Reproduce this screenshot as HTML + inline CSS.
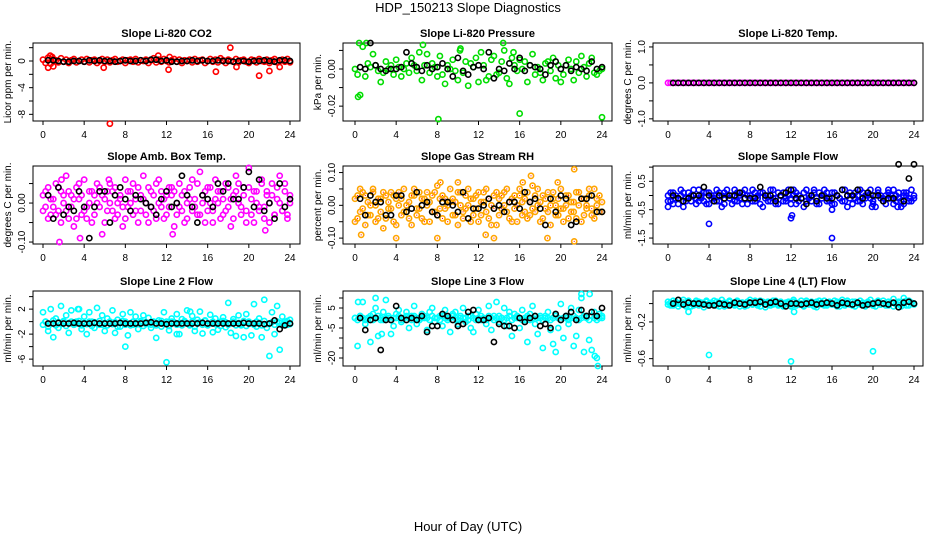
<!DOCTYPE html>
<html><head><meta charset="utf-8"><style>
html,body{margin:0;padding:0;background:#fff;}
svg{display:block;font-family:"Liberation Sans",Arial,sans-serif;}
</style></head><body>
<svg id="chart" width="936" height="540" viewBox="0 0 936 540" xmlns="http://www.w3.org/2000/svg">
<text x="468" y="12" font-size="13" text-anchor="middle">HDP_150213  Slope Diagnostics</text>
<text x="468" y="531" font-size="13" text-anchor="middle">Hour of Day (UTC)</text>
</svg>
<script>
// ---- data (units noted) ----
const xTicks = [0,4,8,12,16,20,24];
const co2Color = [0.2,-0.3,0.5,-0.4,0.3,0.1,-0.2,0.4,-0.1,0.2,-0.3,0.1,0.3,-0.2,0.0,0.2,-0.1,0.3,-0.2,0.1,0.2,-0.3,0.0,0.3,-0.1,0.2,-0.2,0.1,0.3,-0.1,0.0,0.2,-0.3,0.1,0.2,-0.1,0.3,-0.2,0.1,0.0,0.2,-0.3,0.1,0.4,-0.2,0.2,-0.1,0.3,0.0,-0.2,0.1,0.3,-0.1,0.2,-0.3,0.1,0.0,0.2,-0.2,0.3,-0.1,0.1,0.2,-0.3,0.0,0.3,-0.1,0.2,-0.2,0.4,0.1,-0.3,0.2,0.0,-0.1,0.3,-0.2,0.1,0.2,-0.1,-0.3,0.2,0.1,-0.2,0.3,0.0,-0.1,0.2,-0.3,0.1,0.3,-0.2,0.0,0.2,-0.1,0.3,-0.2];
const co2OutX = [6.5,18.2,21,16.8,12.2,22,5.9,0.5,1,18.8,11.2,12.3,23,0.7,0.9];
const co2OutY = [-9.4,2.0,-2.2,-1.6,-1.3,-1.5,-1.0,-1.0,-0.8,-0.9,0.8,0.6,-0.9,0.8,0.6];
const co2Black = [0.1,0.1,0.0,-0.1,-0.1,0.0,0.0,-0.1,0.1,0.0,0.1,0.0,0.0,-0.1,0.0,0.1,0.0,0.0,0.1,0.0,0.2,0.2,0.0,0.1,-0.1,-0.1,0.0,0.0,0.1,0.0,0.1,0.0,0.0,0.1,0.0,0.0,-0.1,0.0,0.0,-0.1,0.0,0.0,0.1,0.0,-0.1,0.1,0.1,0.0];

const presColor = [0,-3,-14,12,-4,3,1,8,2,-1,-7,-2,4,0,2,-3,5,1,-4,0,3,-2,6,2,-1,9,-6,2,8,-2,3,1,-4,7,-3,-8,2,0,5,-1,-6,11,-2,4,-9,3,1,6,-7,9,2,-6,-4,5,7,-3,-2,4,10,-5,-8,6,2,-1,5,0,4,-7,2,8,-3,1,-2,-6,3,4,-1,6,-5,2,-7,-3,2,5,0,-6,4,-2,7,1,-4,3,6,-2,-3,-1,0];
const presOutX = [0.3,8.1,16,24,0.4,1.1,14.4,6.6,10.2,15.4];
const presOutY = [-15,-27,-24,-26,14,14,14,13,10,9];
const presBlack = [1,0,14,2,0,-1,0,0,1,9,3,1,-1,2,0,1,3,0,-4,6,-1,-3,1,2,0,9,-5,0,-1,3,0,6,-1,2,1,0,-3,2,4,0,2,-1,1,0,-1,4,0,1];

const tempColor = [0,0,0,0,0,0,0,0,0,0,0,0,0,0,0,0,0,0,0,0,0,0,0,0,0,0,0,0,0,0,0,0,0,0,0,0,0,0,0,0,0,0,0,0,0,0,0,0,0,0,0,0,0,0,0,0,0,0,0,0,0,0,0,0,0,0,0,0,0,0,0,0,0,0,0,0,0,0,0,0,0,0,0,0,0,0,0,0,0,0,0,0,0,0,0,0,0];
const tempBlack = [0,0,0,0,0,0,0,0,0,0,0,0,0,0,0,0,0,0,0,0,0,0,0,0,0,0,0,0,0,0,0,0,0,0,0,0,0,0,0,0,0,0,0,0,0,0,0,0];

const ambColor = [2,-1,4,-3,1,5,-2,3,0,7,-4,2,-6,4,1,-3,6,-1,3,-5,2,0,4,-8,1,-2,5,3,-4,0,2,-6,6,-1,3,-3,1,4,-2,7,0,-5,3,2,-4,6,-1,1,-3,4,2,-6,0,5,-2,3,-4,1,6,-1,-3,8,2,-5,4,0,-2,6,3,-4,1,5,-1,-6,2,7,0,-3,4,-2,9,1,-5,3,-1,6,-4,2,0,5,-3,1,7,-2,3,-4,2];
const ambColor2 = [-2,3,-4,1,-1,-3,4,-5,2,-2,3,-1,1,-4,5,2,-2,-4,0,3,-3,5,-1,2,-5,3,0,-2,4,-3,1,-1,-4,3,0,5,-2,-5,2,1,-3,4,-1,-2,5,0,3,-4,2,-1,4,3,-3,-1,2,-5,0,4,-2,1,5,-3,0,3,-2,4,-5,1,0,3,-3,-2,4,1,-4,3,5,-1,2,-5,4,-3,3,0,-2,5,-1,3,-5,2,-3,4,0,-2,5,-3,0];
const ambOutX = [1.6,15.7,22.3,12.6,21.6,6.4,1.8,3.6];
const ambOutY = [-10,11,11,-8,-7,6,6,-9];
const ambBlack = [2,-4,4,-3,-1,-2,3,-1,-9,-1,3,3,-5,2,4,1,-2,2,1,0,-1,-3,1,3,-1,0,7,2,-1,-5,2,1,-1,5,3,5,1,1,4,8,-1,6,-2,0,-4,5,-1,1];

const rhColor = [-5,3,-2,4,-6,1,-3,5,0,-4,2,-7,3,-1,4,-5,2,0,-3,5,-2,1,-6,3,-1,4,-4,2,0,-5,3,-2,6,-1,-4,2,0,5,-3,1,-6,4,-2,3,0,-5,2,-1,4,-3,1,5,-4,0,3,-6,2,-1,4,-2,1,-5,3,0,5,-3,2,-4,1,6,-2,0,-5,3,-1,4,-6,2,0,-3,5,-1,3,-4,1,-2,4,0,-5,2,-1,3,-3,5,0,-2,1];
const rhColor2 = [2,-4,5,-1,3,-3,0,4,-5,2,-2,4,-4,1,-1,3,-6,4,2,-2,0,-4,3,5,-3,-1,2,-5,4,1,-2,4,-3,2,3,-1,-5,1,2,-3,4,0,-4,-1,5,2,-3,3,-5,1,4,-2,2,-6,-1,4,-3,3,0,5,-4,2,-1,-5,3,1,-2,4,-3,-1,3,5,1,-4,2,-2,0,4,-3,2,-1,-5,0,3,-2,1,-4,4,2,-3,0,5,-1,-4,2,3,-2];
const rhOutX = [0.6,4,8,12.7,13.5,18.7,21.3,21.3,10,8.3,16.3,19.7,17.1];
const rhOutY = [-9,-10,-10,-9,-10,-10,-11,11,7,7,7,7,9];
const rhBlack = [2,-3,3,1,1,-3,-3,3,3,-2,-1,4,0,1,-2,-3,1,1,0,-2,4,-4,-1,-1,0,2,-1,0,-2,1,1,-1,4,1,2,-1,-6,2,-2,3,2,-6,-5,2,2,3,-2,-2];

const sfColor = [-2,1,-3,0,-1,2,-4,-1,1,-2,0,-3,2,-1,-2,1,-3,0,-1,2,-2,-4,1,0,-1,-3,2,-2,0,1,-1,-3,0,2,-2,-1,1,-4,0,-2,2,-1,-3,1,0,-2,-1,2,-3,0,1,-2,-1,-4,2,0,-2,1,-1,-3,0,2,-2,-1,1,-3,0,-1,2,-2,-4,1,0,-1,-2,2,-3,0,1,-1,-2,-4,2,0,-1,-3,1,0,2,-2,-1,-4,1,0,-2,2,-1];
const sfColor2 = [0,-2,1,-1,-3,0,1,-2,-1,0,2,-1,-2,0,1,-3,1,-1,0,-2,1,0,-3,2,-1,0,-2,1,-1,-3,2,0,-1,-2,1,0,-3,1,-1,0,-2,2,-1,-3,0,1,-2,0,-1,2,-3,0,-1,1,-2,-1,0,2,-3,1,-1,0,1,-2,-3,1,0,-1,-2,2,0,-1,-3,1,0,-2,1,-1,0,2,-3,0,1,-1,-2,0,2,-1,-3,0,1,-2,0,1,-1,-2,0];
const sfOutX = [0,4,12,12.1,16,16,19.9,23,22.4];
const sfOutY = [-4,-10,-8,-7,-5,-15,-4,-3,-4];
const sfBlack = [0,-1,-2,-1,0,0,3,0,-2,0,-1,0,0,1,-1,-1,-1,3,0,0,-2,0,1,2,-1,-1,-3,0,-2,0,-1,-1,0,2,0,0,2,-1,1,0,0,-2,-1,-1,11,-2,6,11];

const l2Color = [1.5,0,-1.5,2,-2.5,0.5,-1,2.5,0,1,-1.8,1.8,-0.5,0,2,-1.2,0.8,-2,1.5,0,-1,2.2,-0.5,1,-1.5,0.5,0,1.8,-1.8,0.3,-0.8,1.2,0,-2.2,1.5,-0.5,0.8,-1.2,0,1,-0.4,0.6,-1,0,-2.6,0.2,-0.8,1.5,0,-1.4,0.5,-0.2,1.2,-2,0.4,0,1.8,-0.6,0.9,-1.5,0.3,1.6,-1.9,0.2,-0.4,1.1,-1.7,0.5,-1.3,0,0.7,-0.9,3,-1.8,0.4,-2.3,1,-0.6,-2.5,1.2,0,-2.2,2.8,-0.8,0.5,-2.5,3.5,-1,-5.5,1.5,-2,2.5,-4.5,0.8,0,-0.5,0.3];
const l2Band = [-0.5,0,-0.8,-0.3,0.2,-0.6,-0.1,-0.4,0.1,-0.7,-0.2,0,-0.5,-0.3,0.1,-0.6,-0.2,-0.4,0,-0.7,-0.1,-0.3,0.1,-0.5,-0.2,-0.6,0,-0.4,-0.1,-0.8,-0.2,0.1,-0.5,-0.3,-0.6,0,-0.2,-0.4,0.1,-0.7,-0.1,-0.3,-0.5,0,-0.6,-0.2,0.1,-0.4,-0.3,-0.7,0,-0.1,-0.5,-0.2,-0.6,0.1,-0.3,-0.4,0,-0.8,-0.2,-0.1,-0.5,0.1,-0.6,-0.3,0,-0.4,-0.2,-0.7,0.1,-0.1,-0.5,-0.3,0,-0.6,-0.2,-0.4,0.1,-0.7,-0.1,-0.3,-0.5,0,-0.2,-0.6,0.1,-0.4,-0.3,-0.1,-0.5,0,-0.2,-0.6,-0.3,0.1,-0.4];
const l2OutX = [8,13,12,3.4,14.3];
const l2OutY = [-4,-2,-6.5,2,1.6];
const l2Black = [-0.3,-0.3,-0.2,-0.3,-0.3,-0.2,-0.3,-0.3,-0.3,-0.2,-0.3,-0.3,-0.3,-0.3,-0.2,-0.3,-0.3,-0.3,-0.3,-0.2,-0.1,-0.3,-0.3,-0.4,-0.3,-0.3,-0.3,-0.3,-0.3,-0.3,-0.2,-0.3,-0.3,-0.3,-0.3,-0.3,-0.3,-0.3,-0.2,-0.3,-0.3,-0.3,-0.4,-0.3,0.2,-1.2,-0.6,-0.3];

const l3Color = [0,-14,1,8,-3,0,-12,2,5,-9,-1,3,9,0,-8,-4,2,4,-2,0,3,-5,1,6,-3,-1,2,0,-6,3,5,-2,0,1,-4,4,0,-7,2,3,-3,0,5,-2,1,-5,-7,2,4,-1,0,-3,6,-6,1,8,-2,0,5,-4,3,-9,2,0,-5,4,-1,-12,2,6,-3,-8,1,-15,0,3,-6,-13,2,-5,7,-10,0,-3,5,-14,-9,4,10,-17,1,-11,-16,3,-20,2,0];
const l3Band = [0,-1,1,0,-1,0,1,-1,0,1,0,-1,0,1,-1,0,0,1,-1,0,1,0,-1,1,0,-1,0,1,0,-1,1,0,0,-1,1,0,-1,0,1,0,-1,1,0,0,-1,1,0,-1,0,1,0,-1,1,0,-1,0,1,0,-1,0,1,-1,0,1,0,-1,0,1,-1,0,1,0,0,-1,1,0,-1,0,1,0,-1,0,1,-1,0,1,0,-1,0,1,0,-1,1,0,-1,0,1];
const l3OutX = [2,0.3,22,22.8,23.6,23.3,19.5,2.6];
const l3OutY = [10,8,12,12,-24,-19,-17,-8];
const l3Black = [0,-6,-1,0,-16,-1,-1,6,0,-1,0,-1,1,-7,-4,-4,2,1,-1,-4,-3,3,4,-1,-1,0,-12,-3,-4,-4,-5,0,-2,0,1,-4,-3,-5,2,-1,1,3,-1,4,1,3,1,5];

const l4Color = [2,-2,3,0,-3,1,4,-1,2,-3,0,3,-2,1,-4,2,0,-1,3,-2,1,4,-3,0,2,-1,-2,3,0,1,-3,2,4,-1,0,-2,3,1,-4,2,0,-1,3,-2,1,-3,0,2,-1,4,-2,0,3,-3,1,-1,2,0,-4,3,1,-2,0,2,-1,3,-3,0,4,-2,1,-1,2,-3,0,3,-1,-2,1,4,0,-3,2,-1,3,0,-2,1,5,-1,2,-3,0,3,-2,1,0];
const l4Color2 = [-1,1,-2,2,0,-1,1,-3,3,0,-2,1,2,-1,0,3,-2,1,-1,2,-3,0,1,-2,3,0,-1,2,-3,1,0,-2,1,-1,3,0,-3,2,-1,1,-2,3,0,-1,2,-2,1,0,-3,2,1,-1,0,-2,3,1,-1,-3,2,0,-1,3,-2,1,0,-1,2,-3,1,0,3,-1,-2,2,0,-1,1,-3,2,0,-2,1,3,-1,0,-2,2,1,-3,0,1,-1,2,-2,3,0,-1];
const l4OutX = [4,12,20,2,12.3,23];
const l4OutY = [-56,-63,-52,-9,-9,6];
const l4Black = [0,4,-1,1,0,0,-1,-2,-2,0,-1,-2,1,0,-1,1,1,2,-1,1,2,0,-3,0,0,-1,0,1,-1,0,1,0,-2,1,0,-1,1,-2,-1,0,1,0,-1,1,-4,1,2,0];

// ---- layout ----
const NS = "http://www.w3.org/2000/svg";
const svg = document.getElementById('chart');
const cols = [{l:33,r:300,x0:43,x24:290},{l:343,r:612,x0:355,x24:602},{l:653,r:923,x0:668,x24:914}];
const rows = [{t:43,b:121},{t:166,b:244},{t:291,b:366}];

function mk(tag, attrs, parent){
  const e = document.createElementNS(NS, tag);
  for (const k in attrs) e.setAttribute(k, attrs[k]);
  (parent||svg).appendChild(e);
  return e;
}

const panels = [
 {key:'co2',title:'Slope Li-820 CO2',ylab:'Licor ppm per min.',col:0,row:0,ymin:-9,ymax:2.7,color:'#ff0000',
  series:[co2Color],outX:co2OutX,outY:co2OutY,black:co2Black,ticks:[2,0,-2,-4,-6,-8],labels:[null,'0',null,'-4',null,'-8']},
 {key:'pressure',title:'Slope Li-820 Pressure',ylab:'kPa per min.',col:1,row:0,ymin:-28,ymax:14,color:'#00dd00',
  series:[presColor],outX:presOutX,outY:presOutY,black:presBlack,ticks:[10,0,-10,-20],labels:[null,'0.00',null,'-0.02']},
 {key:'temp',title:'Slope Li-820 Temp.',ylab:'degrees C per min.',col:2,row:0,ymin:-1.06,ymax:1.11,color:'#ff00ff',
  series:[tempColor],outX:[],outY:[],black:tempBlack,ticks:[1,0.5,0,-0.5,-1],labels:['1.0',null,'0.0',null,'-1.0']},
 {key:'amb',title:'Slope Amb. Box Temp.',ylab:'degrees C per min.',col:0,row:1,ymin:-10.5,ymax:9.5,color:'#ff00ff',
  series:[ambColor,ambColor2],outX:ambOutX,outY:ambOutY,black:ambBlack,ticks:[5,0,-5,-10],labels:[null,'0.00',null,'-0.10']},
 {key:'rh',title:'Slope Gas Stream RH',ylab:'percent per min.',col:1,row:1,ymin:-11.8,ymax:12,color:'#ffa500',dot:'#ff0000',
  series:[rhColor,rhColor2],outX:rhOutX,outY:rhOutY,black:rhBlack,ticks:[10,5,0,-5,-10],labels:['0.10',null,'0.00',null,'-0.10']},
 {key:'sampleflow',title:'Slope Sample Flow',ylab:'ml/min per min.',col:2,row:1,ymin:-17.1,ymax:10.4,color:'#0000ff',
  series:[sfColor,sfColor2],outX:sfOutX,outY:sfOutY,black:sfBlack,ticks:[10,5,0,-5,-10,-15],labels:[null,'0.5',null,'-0.5',null,'-1.5']},
 {key:'line2',title:'Slope Line 2 Flow',ylab:'ml/min per min.',col:0,row:2,ymin:-7.1,ymax:4.9,color:'#00ffff',
  series:[l2Color,l2Band],outX:l2OutX,outY:l2OutY,black:l2Black,ticks:[4,2,0,-2,-4,-6],labels:[null,'2',null,'-2',null,'-6']},
 {key:'line3',title:'Slope Line 3 Flow',ylab:'ml/min per min.',col:1,row:2,ymin:-24,ymax:13.5,color:'#00ffff',
  series:[l3Color,l3Band],outX:l3OutX,outY:l3OutY,black:l3Black,ticks:[10,5,0,-5,-10,-15,-20],labels:[null,'5',null,'-5',null,null,'-20']},
 {key:'line4',title:'Slope Line 4 (LT) Flow',ylab:'ml/min per min.',col:2,row:2,ymin:-68,ymax:13.7,color:'#00ffff',
  series:[l4Color,l4Color2],outX:l4OutX,outY:l4OutY,black:l4Black,ticks:[0,-20,-40,-60],labels:[null,'-0.2',null,'-0.6']}
];

panels.forEach(p => {
  const c = cols[p.col], r = rows[p.row];
  const g = mk('g', {});
  
  
  const xs = h => c.x0 + (c.x24 - c.x0) * h / 24;
  const ys = v => r.b - (v - p.ymin) / (p.ymax - p.ymin) * (r.b - r.t);

  const title = mk('text', {x:(c.l+c.r)/2, y:r.t-6, 'font-size':11, 'font-weight':'bold', 'text-anchor':'middle'}, g);
  title.textContent = p.title;
  
  

  const frame = mk('rect', {x:c.l, y:r.t, width:c.r-c.l, height:r.b-r.t, fill:'none', stroke:'#000', 'stroke-width':1}, g);
  
  

  xTicks.forEach(t => {
    mk('line', {x1:xs(t), x2:xs(t), y1:r.b, y2:r.b+4, stroke:'#000'}, g);
    const tl = mk('text', {x:xs(t), y:r.b+17, 'font-size':10, 'text-anchor':'middle'}, g);
    tl.textContent = t;
    
    
  });
  p.ticks.forEach((t, i) => {
    const y = ys(t);
    mk('line', {x1:c.l-4, x2:c.l, y1:y, y2:y, stroke:'#000'}, g);
    if (p.labels[i]) {
      const tl = mk('text', {x:0, y:0, 'font-size':10, 'text-anchor':'middle', transform:`translate(${c.l-8},${y}) rotate(-90)`}, g);
      tl.textContent = p.labels[i];
      
      
    }
  });
  const yl = mk('text', {x:0, y:0, 'font-size':10, 'text-anchor':'middle', transform:`translate(${c.l-22},${(r.t+r.b)/2}) rotate(-90)`}, g);
  yl.textContent = p.ylab;
  
  

  const clip = mk('g', {}, g);
  function pt(x, y, color, dot){
    const cy = ys(y);
    if (cy < r.t - 3 || cy > r.b + 3) return;
    const cc = mk('circle', {cx:xs(x), cy:cy, r:2.6, fill:'none', stroke:color, 'stroke-width':1.6}, clip);
    
    
    if (dot) mk('rect', {x:xs(x)-0.5, y:cy-0.5, width:1, height:1, fill:dot}, clip);
  }
  p.series.forEach(s => {
    s.forEach((v, i) => pt(24 * i / (s.length - 1), v, p.color, p.dot));
  });
  p.outX.forEach((x, i) => pt(x, p.outY[i], p.color, p.dot));
  p.black.forEach((v, i) => pt(0.5 + 23.5 * i / (p.black.length - 1), v, '#000', null));
});
</script>
</body></html>
